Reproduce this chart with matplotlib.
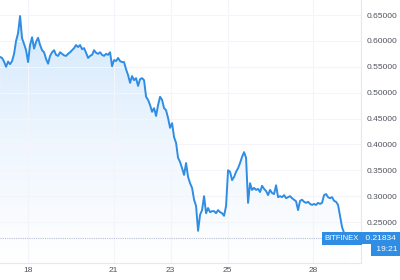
import numpy as np
import matplotlib
matplotlib.use("Agg")
import matplotlib.pyplot as plt
from matplotlib.patches import Polygon

plt.rcParams["font.family"] = ["Liberation Sans", "DejaVu Sans"]

# price samples (roughly every 1.7 hours)
precos = [
    0.569, 0.567, 0.560, 0.550, 0.560, 0.555, 0.561, 0.575, 0.600, 0.615,
    0.648, 0.605, 0.594, 0.582, 0.559, 0.592, 0.607, 0.585, 0.598, 0.606,
    0.592, 0.582, 0.578, 0.565, 0.556, 0.571, 0.578, 0.582, 0.573, 0.571,
    0.578, 0.575, 0.572, 0.571, 0.575, 0.578, 0.582, 0.586, 0.592, 0.588,
    0.592, 0.584, 0.586, 0.577, 0.567, 0.571, 0.573, 0.582, 0.577, 0.575,
    0.578, 0.573, 0.571, 0.575, 0.573, 0.578, 0.551, 0.563, 0.561, 0.567,
    0.561, 0.559, 0.559, 0.545, 0.534, 0.519, 0.532, 0.524, 0.528, 0.513,
    0.526, 0.528, 0.524, 0.492, 0.486, 0.476, 0.463, 0.470, 0.455, 0.476,
    0.492, 0.486, 0.470, 0.466, 0.451, 0.432, 0.441, 0.414, 0.403, 0.374,
    0.366, 0.354, 0.341, 0.364, 0.337, 0.325, 0.316, 0.293, 0.281, 0.233,
    0.264, 0.273, 0.300, 0.267, 0.277, 0.269, 0.271, 0.271, 0.267, 0.273,
    0.269, 0.267, 0.262, 0.281, 0.350, 0.347, 0.331, 0.337, 0.347, 0.354,
    0.364, 0.376, 0.385, 0.374, 0.287, 0.325, 0.312, 0.316, 0.312, 0.314,
    0.308, 0.320, 0.314, 0.310, 0.302, 0.312, 0.306, 0.304, 0.321, 0.298,
    0.300, 0.298, 0.302, 0.296, 0.298, 0.300, 0.296, 0.293, 0.290, 0.273,
    0.291, 0.293, 0.289, 0.287, 0.289, 0.285, 0.283, 0.285, 0.283, 0.287,
    0.285, 0.287, 0.302, 0.304, 0.298, 0.296, 0.298, 0.291, 0.289, 0.283,
    0.262, 0.240, 0.229, 0.225, 0.21834,
]
dia_inicio = 17.02
dia_fim = 29.23
ultimo = 0.21834
dias_ticks = [18, 21, 23, 25, 28]
precos_ticks = [0.25, 0.30, 0.35, 0.40, 0.45, 0.50, 0.55, 0.60, 0.65]

dias = np.linspace(dia_inicio, dia_fim, len(precos))

azul = "#2f8de4"
cinza = "#50535e"

fig = plt.figure(figsize=(4, 2.8), dpi=100)
ax = fig.add_axes([0, 0.0607, 0.9025, 0.9393])

y_min, y_max = 0.1708, 0.679
x_min, x_max = 17.0175, 29.684

# gradiente do preenchimento
grad = np.linspace(0, 1, 256).reshape(-1, 1)
cmap = matplotlib.colors.LinearSegmentedColormap.from_list(
    "fundo", ["#ffffff", "#eef6fe", "#d3e8fc"])
img = ax.imshow(grad, cmap=cmap, aspect="auto", origin="lower",
                extent=[x_min, x_max, y_min, 0.65], zorder=1)
verts = [(dias[0], y_min)] + list(zip(dias, precos)) + [(dias[-1], y_min)]
poly = Polygon(verts, closed=True, facecolor="none", edgecolor="none")
ax.add_patch(poly)
img.set_clip_path(poly)

ax.plot(dias, precos, color=azul, linewidth=1.4, zorder=3)
ax.axhline(ultimo, color="#b9c0d6", linewidth=0.8, linestyle=(0, (1, 1)), zorder=2)

ax.set_xlim(x_min, x_max)
ax.set_ylim(y_min, y_max)

ax.grid(True, color="#f3f5fa", linewidth=0.8, zorder=0)
ax.set_xticks(dias_ticks)
ax.set_xticklabels([str(d) for d in dias_ticks])
ax.set_yticks(precos_ticks)
ax.set_yticklabels([f"{p:.5f}" for p in precos_ticks])
ax.yaxis.tick_right()
ax.tick_params(axis="both", length=0, labelsize=6, colors=cinza)
ax.tick_params(axis="y", pad=4)
ax.tick_params(axis="x", pad=3)

for lado in ["top", "left"]:
    ax.spines[lado].set_visible(False)
ax.spines["right"].set_color("#e6e8ef")
ax.spines["bottom"].set_color("#e6e8ef")

# etiquetas do ultimo preço
ax.text(0.995, ultimo, "BITFINEX", transform=ax.get_yaxis_transform(),
        ha="right", va="center", fontsize=5.5, color="white", zorder=5,
        bbox=dict(boxstyle="square,pad=0.35", fc=azul, ec="none"))
ax.text(1.005, ultimo, " 0.21834 ", transform=ax.get_yaxis_transform(),
        ha="left", va="center", fontsize=6, color="white", zorder=5,
        clip_on=False,
        bbox=dict(boxstyle="square,pad=0.3", fc=azul, ec="none"))
ax.text(1.036, ultimo - 0.022, " 19:21 ", transform=ax.get_yaxis_transform(),
        ha="left", va="center", fontsize=6, color="white", zorder=5,
        clip_on=False,
        bbox=dict(boxstyle="square,pad=0.3", fc=azul, ec="none"))

fig.savefig("out.png", dpi=100)
